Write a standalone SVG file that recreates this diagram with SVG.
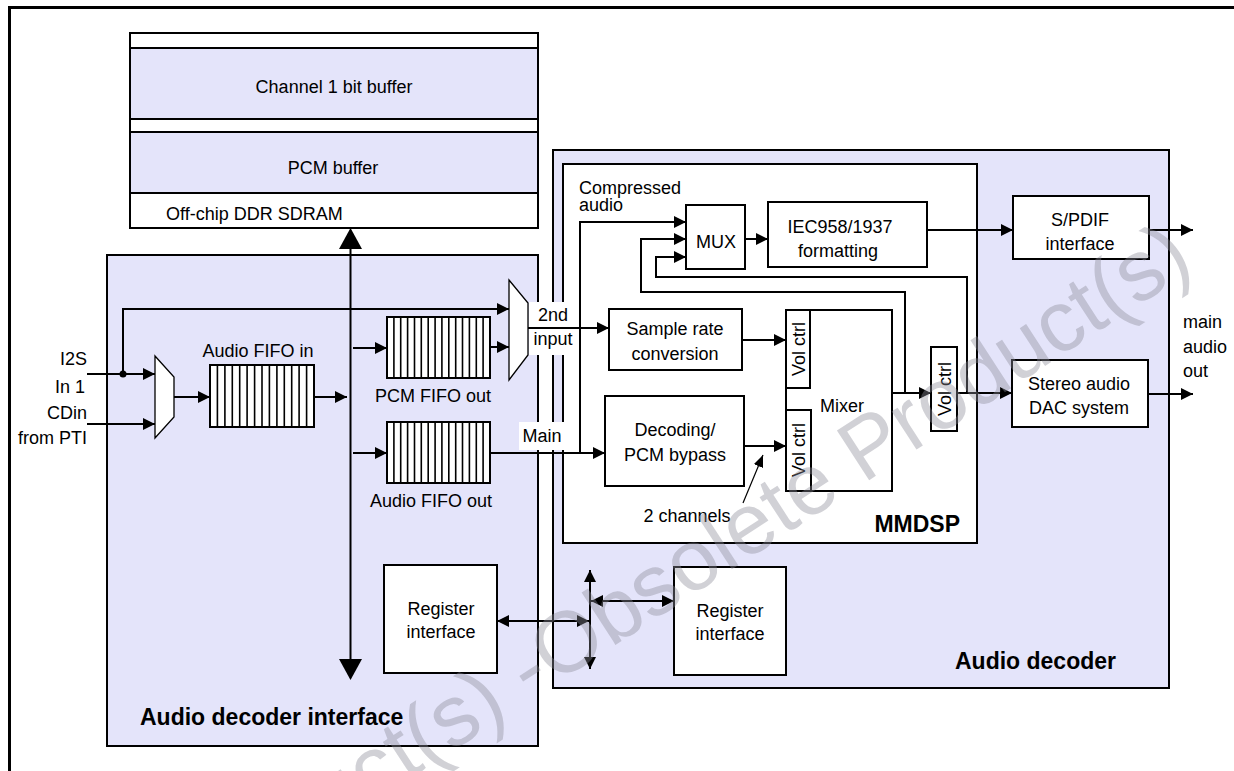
<svg xmlns="http://www.w3.org/2000/svg" width="1234" height="771" viewBox="0 0 1234 771">
<defs>
<style>
.box{fill:#fff;stroke:#000;stroke-width:2}
.lav{fill:#E4E4FA;stroke:#000;stroke-width:2}
.ln{fill:none;stroke:#000;stroke-width:2}
.bar{fill:none;stroke:#000;stroke-width:1.6}
.t{font-family:"Liberation Sans",Arial,Helvetica,sans-serif;font-size:18px;fill:#000}
.c{text-anchor:middle}
.e{text-anchor:end}
.b{font-weight:bold;font-size:23px}
.wm{font-family:"Liberation Sans",Arial,sans-serif;font-size:86px;fill:#8c8c99;fill-opacity:0.40}
</style>
<marker id="ah" viewBox="0 0 12 12" refX="12" refY="6" markerWidth="12" markerHeight="12" markerUnits="userSpaceOnUse" orient="auto-start-reverse"><path d="M0,0 L12,6 L0,12 z" fill="#000"/></marker>
<marker id="ahs" viewBox="0 0 12 10" refX="12" refY="5" markerWidth="12" markerHeight="10" markerUnits="userSpaceOnUse" orient="auto"><path d="M0,0 L12,5 L0,10 z" fill="#000"/></marker>
</defs>
<rect width="1234" height="771" fill="#fff"/>
<path d="M9.5,771 V7.5 H1234" fill="none" stroke="#000" stroke-width="3"/>

<g id="memory">
<rect x="130" y="33" width="408" height="195" class="box"/>
<rect x="131" y="48" width="406" height="71" fill="#E4E4FA"/>
<rect x="131" y="132" width="406" height="61" fill="#E4E4FA"/>
<path d="M130,48 H538 M130,119 H538 M130,132 H538 M130,193 H538" class="ln"/>
<text x="334" y="93" class="t c">Channel 1 bit buffer</text>
<text x="333" y="174" class="t c">PCM buffer</text>
<text x="166" y="220" class="t">Off-chip DDR SDRAM</text>
</g>

<g id="audio-decoder-interface">
<rect x="107" y="255" width="431" height="491" class="lav"/>
<text x="140" y="725" class="t b">Audio decoder interface</text>
</g>

<g id="audio-decoder">
<rect x="553" y="150" width="616" height="538" class="lav"/>
<text x="1116" y="669" class="t b e">Audio decoder</text>
</g>

<g id="mmdsp">
<rect x="563" y="164" width="414" height="379" class="box"/>
<text x="960" y="532" class="t b e">MMDSP</text>
</g>

<g id="input-mux">
<polygon points="155,356 174,377 174,417 155,438" fill="#fff" stroke="#000" stroke-width="1.3"/>
</g>

<g id="audio-fifo-in">
<rect x="210" y="365" width="104" height="62" class="box"/>
<path class="bar" d="M217.4,365V427M224.9,365V427M232.3,365V427M239.7,365V427M247.1,365V427M254.6,365V427M262,365V427M269.4,365V427M276.9,365V427M284.3,365V427M291.7,365V427M299.1,365V427M306.6,365V427"/>
<text x="258" y="357" class="t c">Audio FIFO in</text>
</g>

<g id="pcm-fifo-out">
<rect x="387" y="317" width="103" height="61" class="box"/>
<path class="bar" d="M393.9,317V378M400.7,317V378M407.6,317V378M414.5,317V378M421.3,317V378M428.2,317V378M435.1,317V378M441.9,317V378M448.8,317V378M455.7,317V378M462.5,317V378M469.4,317V378M476.3,317V378M483.1,317V378"/>
<text x="433" y="402" class="t c">PCM FIFO out</text>
</g>

<g id="audio-fifo-out">
<rect x="387" y="422" width="103" height="61" class="box"/>
<path class="bar" d="M393.9,422V483M400.7,422V483M407.6,422V483M414.5,422V483M421.3,422V483M428.2,422V483M435.1,422V483M441.9,422V483M448.8,422V483M455.7,422V483M462.5,422V483M469.4,422V483M476.3,422V483M483.1,422V483"/>
<text x="431" y="507" class="t c">Audio FIFO out</text>
</g>

<g id="output-mux">
<polygon points="509,280 528,303 528,355 509,380" fill="#fff" stroke="#000" stroke-width="1.3"/>
</g>

<g id="register-interface-left">
<rect x="384" y="565" width="113" height="108" class="box"/>
<text x="441" y="615" class="t c">Register</text>
<text x="441" y="638" class="t c">interface</text>
</g>

<g id="register-interface-right">
<rect x="674" y="567" width="112" height="108" class="box"/>
<text x="730" y="617" class="t c">Register</text>
<text x="730" y="640" class="t c">interface</text>
</g>

<g id="mux">
<rect x="686" y="205" width="59" height="64" class="box"/>
<text x="716" y="248" class="t c">MUX</text>
</g>

<g id="iec-formatting">
<rect x="768" y="202" width="159" height="65" class="box"/>
<text x="840" y="233" class="t c">IEC958/1937</text>
<text x="838" y="257" class="t c">formatting</text>
</g>

<g id="spdif">
<rect x="1013" y="196" width="136" height="63" class="box"/>
<text x="1080" y="226" class="t c">S/PDIF</text>
<text x="1080" y="250" class="t c">interface</text>
</g>

<g id="dac">
<rect x="1012" y="360" width="136" height="67" class="box"/>
<text x="1079" y="390" class="t c">Stereo audio</text>
<text x="1079" y="414" class="t c">DAC system</text>
</g>

<g id="src">
<rect x="609" y="309" width="133" height="61" class="box"/>
<text x="675" y="335" class="t c">Sample rate</text>
<text x="675" y="360" class="t c">conversion</text>
</g>

<g id="decoding">
<rect x="605" y="396" width="139" height="90" class="box"/>
<text x="675" y="436" class="t c">Decoding/</text>
<text x="675" y="461" class="t c">PCM bypass</text>
</g>

<g id="mixer">
<rect x="786" y="310" width="106" height="181" class="box"/>
<rect x="786" y="310" width="24" height="78" class="box"/>
<rect x="786" y="410" width="25" height="81" class="box"/>
<text x="842" y="412" class="t c">Mixer</text>
<text transform="translate(798,349) rotate(-90)" x="0" y="6.5" class="t c">Vol ctrl</text>
<text transform="translate(798.5,450) rotate(-90)" x="0" y="6.5" class="t c">Vol ctrl</text>
</g>

<g id="vol-ctrl-out">
<rect x="931" y="347" width="26" height="84" class="box"/>
<text transform="translate(944,389) rotate(-90)" x="0" y="6.5" class="t c">Vol ctrl</text>
</g>

<g id="label-backgrounds">
<rect x="529" y="302" width="42" height="53" fill="#fff"/>
<rect x="519" y="422" width="47" height="28" fill="#fff"/>
</g>

<g id="connectors">
<path class="ln" d="M350.5,246 V662" stroke-width="6"/>
<polygon points="350.5,228 339,249 362,249"/>
<polygon points="350.5,680 339,659 362,659"/>
<path class="ln" d="M87,374 H155" marker-end="url(#ah)"/>
<path class="ln" d="M87,424 H155" marker-end="url(#ah)"/>
<path class="ln" d="M123,374 V309 H509" marker-end="url(#ah)"/>
<circle cx="123" cy="374" r="3.5"/>
<path class="ln" d="M174,397 H210" marker-end="url(#ah)"/>
<path class="ln" d="M314,397 H347" marker-end="url(#ah)"/>
<path class="ln" d="M353,348 H387" marker-end="url(#ah)"/>
<path class="ln" d="M490,347 H509" marker-end="url(#ah)"/>
<path class="ln" d="M353,453 H387" marker-end="url(#ah)"/>
<path class="ln" d="M490,453 H605" marker-end="url(#ah)"/>
<path class="ln" d="M528,328 H609" marker-end="url(#ah)"/>
<path class="ln" d="M580,453 V222 H686" marker-end="url(#ah)"/>
<path class="ln" d="M905,393 V292 H641 V239 H686" marker-end="url(#ah)"/>
<path class="ln" d="M967,393 V277 H656 V257 H686" marker-end="url(#ah)"/>
<path class="ln" d="M745,239 H768" marker-end="url(#ah)"/>
<path class="ln" d="M927,230 H1013" marker-end="url(#ah)"/>
<path class="ln" d="M1149,230 H1193" marker-end="url(#ah)"/>
<path class="ln" d="M742,340 H786" marker-end="url(#ah)"/>
<path class="ln" d="M744,446 H786" marker-end="url(#ah)"/>
<path class="ln" d="M892,393 H931" marker-end="url(#ah)"/>
<path class="ln" d="M957,393 H1012" marker-end="url(#ah)"/>
<path class="ln" d="M1148,394 H1193" marker-end="url(#ah)"/>
<path d="M743,503 L763,455" fill="none" stroke="#000" stroke-width="1.2" marker-end="url(#ahs)"/>
<path class="ln" d="M497,621 H589" marker-start="url(#ah)" marker-end="url(#ah)"/>
<path class="ln" d="M590,570 V669" marker-start="url(#ah)" marker-end="url(#ah)"/>
<path class="ln" d="M591,601 H674" marker-start="url(#ah)" marker-end="url(#ah)"/>
</g>

<g id="labels">
<text x="87" y="365" class="t e">I2S</text>
<text x="85" y="393" class="t e">In 1</text>
<text x="87" y="419" class="t e">CDin</text>
<text x="87" y="444" class="t e">from PTI</text>
<text x="579" y="194" class="t">Compressed</text>
<text x="579" y="211" class="t">audio</text>
<text x="553" y="321" class="t c">2nd</text>
<text x="553" y="345" class="t c">input</text>
<text x="542" y="442" class="t c">Main</text>
<text x="687" y="522" class="t c">2 channels</text>
<text x="1183" y="328" class="t">main</text>
<text x="1183" y="353" class="t">audio</text>
<text x="1183" y="377" class="t">out</text>
</g>

<g id="watermark">
<text class="wm" text-anchor="end" transform="translate(1196,268) rotate(-33)">Obsolete Product(s) -Obsolete Product(s)</text>
</g>
</svg>
